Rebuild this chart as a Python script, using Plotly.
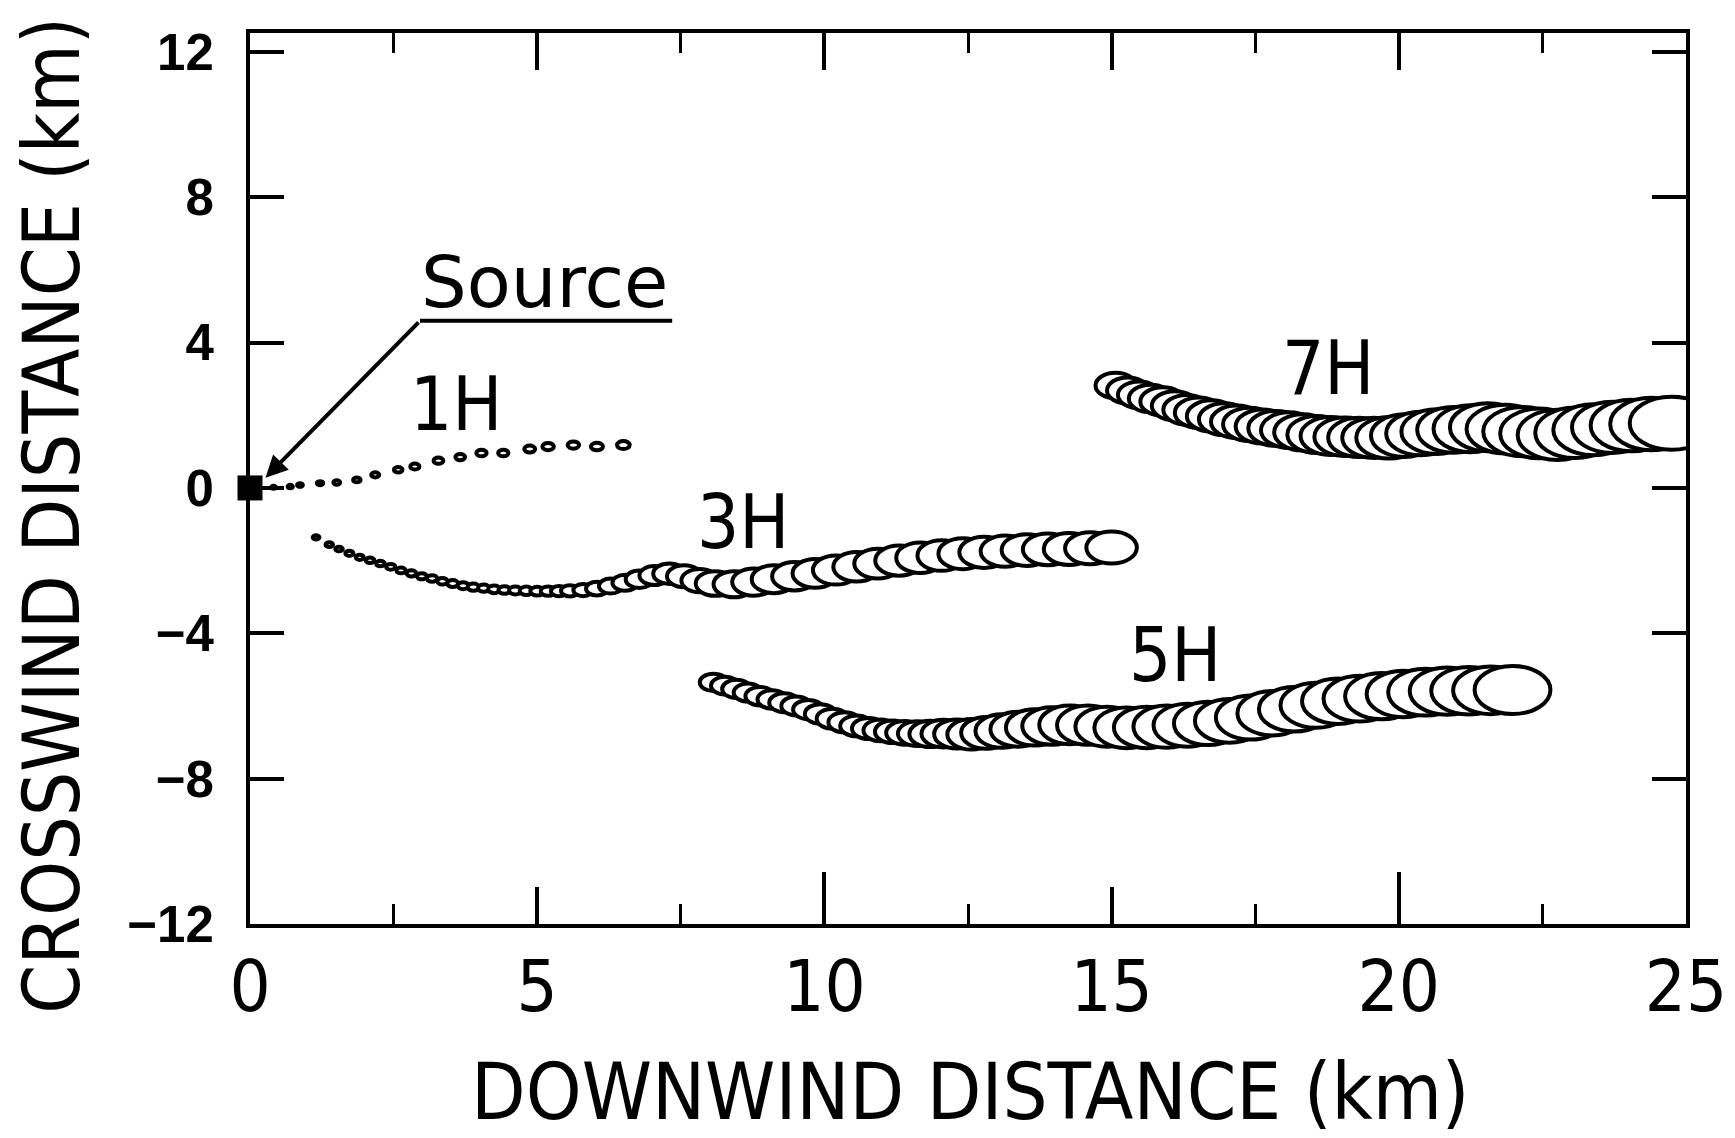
import plotly.graph_objects as go

# ---------------- data (km) ----------------
# Source location
source_x = [0.0]
source_y = [0.0]

# 1H puff train: centre x, centre y, puff diameter
h1_x = [0.41, 0.70, 0.87, 1.22, 1.51, 1.86, 2.18, 2.58, 2.87, 3.28, 3.66, 4.03, 4.41, 4.87, 5.19, 5.63, 6.04, 6.50]
h1_y = [0.02, 0.04, 0.08, 0.13, 0.15, 0.22, 0.36, 0.50, 0.59, 0.75, 0.85, 0.96, 0.96, 1.07, 1.14, 1.18, 1.14, 1.18]
h1_d = [0.08, 0.09, 0.10, 0.11, 0.12, 0.13, 0.14, 0.15, 0.16, 0.17, 0.17, 0.18, 0.18, 0.19, 0.20, 0.20, 0.21, 0.22]

# 3H puff train
h3_x = [1.15, 1.38, 1.55, 1.73, 1.91, 2.09, 2.27, 2.45, 2.63, 2.81, 2.99, 3.17, 3.35, 3.53, 3.71, 3.89,
        4.07, 4.25, 4.43, 4.62, 4.81, 5.00, 5.19, 5.38, 5.57, 5.80, 6.04, 6.28, 6.53, 6.78, 7.04, 7.30,
        7.56, 7.83, 8.10, 8.43, 8.77, 9.12, 9.48, 9.84, 10.20, 10.56, 10.93, 11.30, 11.67, 12.04, 12.41,
        12.78, 13.15, 13.52, 13.89, 14.26, 14.63, 15.00]
h3_y = [-1.36, -1.56, -1.68, -1.80, -1.91, -1.99, -2.08, -2.17, -2.27, -2.35, -2.43, -2.49, -2.57, -2.63, -2.69, -2.73,
        -2.76, -2.79, -2.81, -2.82, -2.83, -2.84, -2.84, -2.84, -2.83, -2.81, -2.77, -2.70, -2.61, -2.51, -2.41, -2.36,
        -2.43, -2.55, -2.63, -2.65, -2.59, -2.51, -2.43, -2.35, -2.26, -2.17, -2.08, -2.00, -1.92, -1.86, -1.81,
        -1.77, -1.74, -1.71, -1.69, -1.68, -1.66, -1.64]
h3_d = [0.12, 0.13, 0.13, 0.14, 0.14, 0.15, 0.15, 0.16, 0.16, 0.17, 0.17, 0.18, 0.18, 0.19, 0.19, 0.20,
        0.20, 0.21, 0.21, 0.22, 0.23, 0.24, 0.26, 0.28, 0.31, 0.34, 0.38, 0.41, 0.44, 0.48, 0.52, 0.56,
        0.60, 0.64, 0.68, 0.72, 0.75, 0.77, 0.78, 0.79, 0.80, 0.81, 0.82, 0.83, 0.84, 0.84, 0.85,
        0.86, 0.86, 0.87, 0.87, 0.88, 0.88, 0.88]

# 5H puff train
h5_x = [8.07, 8.27, 8.47, 8.67, 8.88, 9.09, 9.30, 9.51, 9.72, 9.93, 10.14, 10.35, 10.56, 10.77, 10.98, 11.19,
        11.40, 11.62, 11.84, 12.07, 12.31, 12.56, 12.82, 13.09, 13.37, 13.66, 13.96, 14.27, 14.59, 14.92,
        15.26, 15.61, 15.96, 16.32, 16.68, 17.05, 17.42, 17.80, 18.18, 18.56, 18.94, 19.32, 19.70, 20.08,
        20.46, 20.84, 21.22, 21.60, 21.98]
h5_y = [-5.35, -5.44, -5.53, -5.63, -5.73, -5.82, -5.91, -6.00, -6.10, -6.22, -6.35, -6.45, -6.55, -6.62, -6.67, -6.71,
        -6.74, -6.76, -6.77, -6.76, -6.77, -6.78, -6.74, -6.69, -6.64, -6.59, -6.55, -6.52, -6.53, -6.57,
        -6.60, -6.59, -6.57, -6.53, -6.48, -6.41, -6.32, -6.20, -6.09, -5.98, -5.87, -5.80, -5.73, -5.67,
        -5.62, -5.59, -5.58, -5.57, -5.56]
h5_d = [0.48, 0.49, 0.50, 0.50, 0.51, 0.51, 0.52, 0.52, 0.53, 0.54, 0.55, 0.56, 0.57, 0.58, 0.60, 0.62,
        0.65, 0.68, 0.72, 0.76, 0.80, 0.84, 0.88, 0.92, 0.96, 1.00, 1.03, 1.06, 1.08, 1.10,
        1.12, 1.14, 1.16, 1.18, 1.19, 1.20, 1.21, 1.22, 1.23, 1.24, 1.25, 1.26, 1.27, 1.28,
        1.29, 1.30, 1.31, 1.31, 1.32]

# 7H puff train
h7_x = [15.07, 15.28, 15.48, 15.68, 15.89, 16.10, 16.31, 16.52, 16.74, 16.96, 17.18, 17.40, 17.63, 17.86,
        18.09, 18.33, 18.57, 18.81, 19.06, 19.31, 19.57, 19.83, 20.10, 20.38, 20.66, 20.95, 21.25, 21.55,
        21.85, 22.15, 22.45, 22.76, 23.07, 23.39, 23.72, 24.05, 24.40, 24.75]
h7_y = [2.82, 2.68, 2.56, 2.46, 2.38, 2.26, 2.15, 2.07, 1.98, 1.89, 1.82, 1.75, 1.69, 1.64,
        1.59, 1.53, 1.47, 1.43, 1.41, 1.39, 1.38, 1.38, 1.44, 1.50, 1.55, 1.60, 1.63, 1.67,
        1.62, 1.55, 1.50, 1.46, 1.52, 1.60, 1.67, 1.72, 1.76, 1.78]
h7_d = [0.70, 0.72, 0.74, 0.76, 0.78, 0.80, 0.82, 0.84, 0.86, 0.88, 0.90, 0.92, 0.94, 0.96,
        0.98, 1.00, 1.02, 1.04, 1.06, 1.08, 1.11, 1.14, 1.17, 1.20, 1.23, 1.26, 1.29, 1.32,
        1.34, 1.36, 1.37, 1.38, 1.39, 1.40, 1.41, 1.42, 1.44, 1.46]

# labels
hour_labels = ["1H", "3H", "5H", "7H"]
hour_label_x = [3.59, 8.59, 16.10, 18.77]
hour_label_y = [2.31, -0.94, -4.60, 3.29]

x_tick_vals = [0, 5, 10, 15, 20, 25]
x_long_tick_vals = [10, 20]
y_tick_vals = [-12, -8, -4, 0, 4, 8, 12]

# ---------------- style ----------------
COND = "DejaVu Sans Condensed, Liberation Sans Narrow, Arial Narrow, sans-serif"
REG = "DejaVu Sans, Liberation Sans, sans-serif"
BLACK = "black"

fig = go.Figure()

# Source marker
fig.add_trace(go.Scatter(
    x=source_x, y=source_y, mode="markers",
    marker=dict(symbol="square", size=25, color=BLACK),
    cliponaxis=False, showlegend=False, hoverinfo="skip"))

# Source underline (leader)
fig.add_trace(go.Scatter(
    x=[2.96, 7.35], y=[4.60, 4.60], mode="lines",
    line=dict(color=BLACK, width=4), showlegend=False, hoverinfo="skip"))

# helper trace so the overlay axis (longer ticks at 10 and 20 km) is drawn
fig.add_trace(go.Scatter(
    x=source_x, y=source_y, xaxis="x2", mode="markers",
    marker=dict(size=1, opacity=0), showlegend=False, hoverinfo="skip"))

# puffs: circles in data space (appear as ellipses), later puffs overlap earlier ones
for xs, ys, ds in [(h1_x, h1_y, h1_d), (h3_x, h3_y, h3_d), (h5_x, h5_y, h5_d), (h7_x, h7_y, h7_d)]:
    for x, y, d in zip(xs, ys, ds):
        fig.add_shape(type="circle", xref="x", yref="y",
                      x0=x - d / 2, x1=x + d / 2, y0=y - d / 2, y1=y + d / 2,
                      line=dict(color=BLACK, width=4), fillcolor="white", layer="above")

annotations = []
for t, x, y in zip(hour_labels, hour_label_x, hour_label_y):
    annotations.append(dict(x=x, y=y, xref="x", yref="y", text=t, showarrow=False,
                            font=dict(family=COND, size=74, color=BLACK),
                            xanchor="center", yanchor="middle"))

annotations.append(dict(x=5.12, y=5.67, xref="x", yref="y", text="Source", showarrow=False,
                        font=dict(family=REG, size=72, color=BLACK),
                        xanchor="center", yanchor="middle"))
# arrow from underline start to the source
annotations.append(dict(x=0.27, y=0.28, xref="x", yref="y", ax=2.96, ay=4.60, axref="x", ayref="y",
                        text="", showarrow=True, arrowhead=2, arrowsize=1.1, arrowwidth=4,
                        arrowcolor=BLACK, standoff=0))

# axis titles
annotations.append(dict(x=0.502, y=-0.189, xref="paper", yref="paper",
                        text="DOWNWIND DISTANCE (km)", showarrow=False,
                        font=dict(family=COND, size=79, color=BLACK),
                        xanchor="center", yanchor="middle"))
annotations.append(dict(x=-0.138, y=0.459, xref="paper", yref="paper",
                        text="CROSSWIND DISTANCE (km)", showarrow=False, textangle=-90,
                        font=dict(family=COND, size=78, color=BLACK),
                        xanchor="center", yanchor="middle"))

# the page body has an 8 px margin, so the figure is 8 px smaller and margins shifted
fig.update_layout(
    width=1727, height=1130, autosize=False,
    margin=dict(l=242, r=49, t=25, b=214, autoexpand=False),
    paper_bgcolor="white", plot_bgcolor="white",
    showlegend=False,
    annotations=annotations,
    xaxis=dict(
        range=[0, 25], tickvals=x_tick_vals, ticktext=[str(v) for v in x_tick_vals],
        showgrid=False, zeroline=False,
        showline=True, linewidth=4, linecolor=BLACK, mirror="ticks",
        ticks="inside", ticklen=37, tickwidth=3.5, tickcolor=BLACK,
        minor=dict(dtick=2.5, tick0=0, ticks="inside", ticklen=20, tickwidth=3, tickcolor=BLACK),
        tickfont=dict(family=COND, size=72, color=BLACK),
        ticklabelstandoff=-3,
    ),
    xaxis2=dict(overlaying="x", side="bottom", anchor="y", range=[0, 25], tickvals=x_long_tick_vals,
                showticklabels=False, ticks="inside", ticklen=52, tickwidth=3.5, tickcolor=BLACK,
                showgrid=False, zeroline=False, showline=False),
    yaxis=dict(
        range=[-12, 12.52], tickvals=y_tick_vals,
        showgrid=False, zeroline=False,
        showline=True, linewidth=4, linecolor=BLACK, mirror="ticks",
        ticks="inside", ticklen=34, tickwidth=3.5, tickcolor=BLACK,
        tickfont=dict(family="Liberation Sans, Arial, sans-serif", size=51, color=BLACK, weight="bold"),
        ticklabelstandoff=22,
    ),
)

fig.write_html("out.html")
